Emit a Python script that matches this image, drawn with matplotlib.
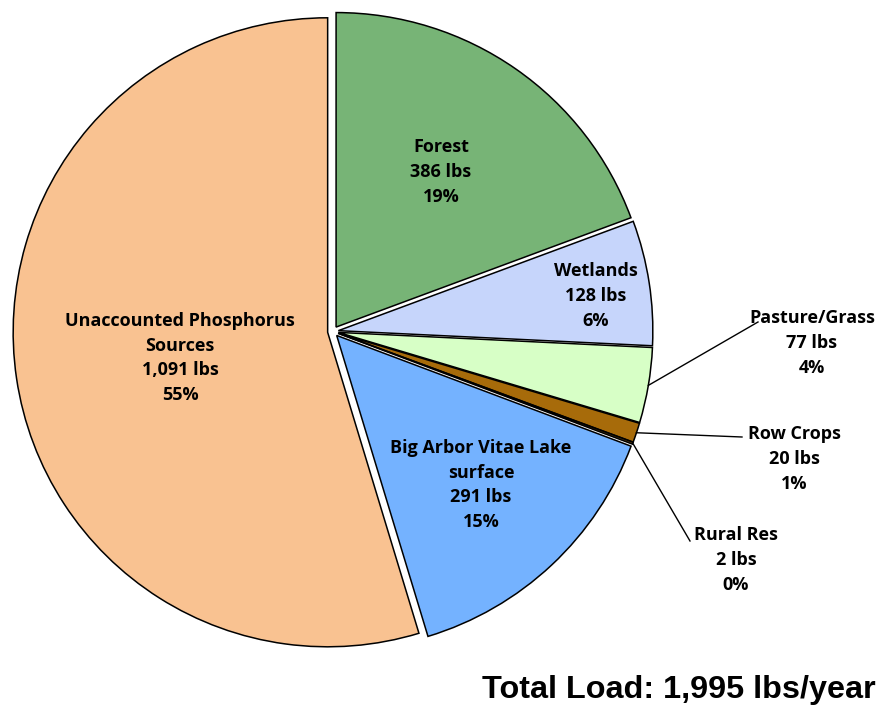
import matplotlib
matplotlib.use("Agg")
import matplotlib.pyplot as plt
import numpy as np

categories = ["Forest", "Wetlands", "Pasture/Grass", "Row Crops", "Rural Res",
              "Big Arbor Vitae Lake\nsurface", "Unaccounted Phosphorus\nSources"]
loads = [386, 128, 77, 20, 2, 291, 1091]
colors = ["#77B476", "#C6D5FB", "#D7FFC6", "#A76B0A", "#6E4A10", "#74B2FF", "#F9C291"]

total = sum(loads)

fig = plt.figure(figsize=(8.95, 7.05), dpi=100)
ax = fig.add_axes([0, 0, 1, 1])
ax.set_aspect("equal")
ax.axis("off")

H = 705
cx, cy, R = 333, H - 331.5, 314.5
explode = [5.4] * len(loads)
wedges, _ = ax.pie(loads, colors=colors, startangle=90, counterclock=False,
                   center=(cx, cy), radius=R, explode=explode,
                   wedgeprops=dict(edgecolor="black", linewidth=1.1),
                   frame=False)
ax.set_xlim(0, 895)
ax.set_ylim(0, H)

font = ["Open Sans", "DejaVu Sans"]
FS = 13
LS = 1.48

def lab(i):
    return f"{categories[i]}\n{loads[i]:,} lbs\n{round(100*loads[i]/total)}%"

inside = {0: (441, H - 172), 1: (596, H - 296), 5: (481, H - 485), 6: (180, H - 358)}
for i, (x, y) in inside.items():
    ax.text(x, y, lab(i), ha="center", va="center", fontsize=FS, fontweight="bold",
            family=font, linespacing=LS)

outside = {2: (812, H - 343), 3: (794, H - 459), 4: (736, H - 560)}
line_end = {2: (758, H - 322), 3: (742, H - 437), 4: (690, H - 541)}
for i, (x, y) in outside.items():
    w = wedges[i]
    th = np.deg2rad((w.theta1 + w.theta2) / 2)
    ox, oy = w.center
    px, py = ox + R * np.cos(th), oy + R * np.sin(th)
    ex, ey = line_end[i]
    ax.plot([px, ex], [py, ey], color="black", lw=1.0)
    ax.text(x, y, lab(i), ha="center", va="center", fontsize=FS, fontweight="bold",
            family=font, linespacing=LS)

ax.text(679, H - 690, "Total Load: 1,995 lbs/year", ha="center", va="center",
        fontsize=23.3, fontweight="bold", family=["Liberation Sans", "DejaVu Sans"])

fig.savefig("out.png", dpi=100)
